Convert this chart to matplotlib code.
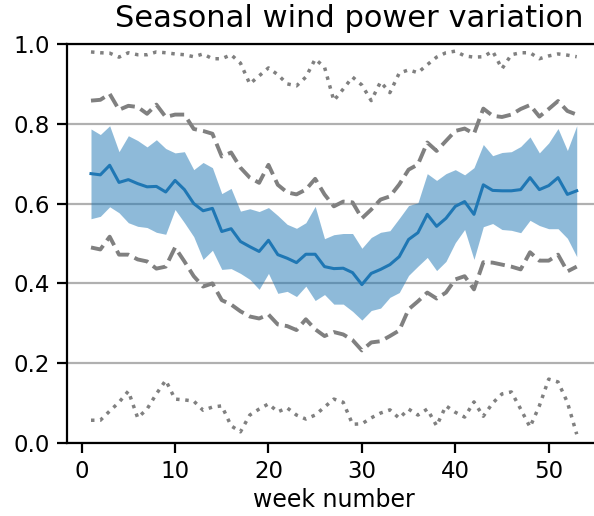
import numpy as np
import matplotlib

matplotlib.use("Agg")
import matplotlib.pyplot as plt

# Weekly capacity factor statistics
weeks = np.arange(1, 54)

median = [0.675, 0.672, 0.696, 0.653, 0.660, 0.650, 0.642, 0.643, 0.629, 0.658,
          0.635, 0.600, 0.582, 0.588, 0.530, 0.537, 0.505, 0.492, 0.480, 0.508,
          0.472, 0.463, 0.452, 0.473, 0.473, 0.442, 0.437, 0.438, 0.427, 0.397,
          0.425, 0.435, 0.447, 0.467, 0.510, 0.527, 0.573, 0.543, 0.563, 0.593,
          0.605, 0.573, 0.647, 0.633, 0.632, 0.632, 0.635, 0.665, 0.635, 0.645,
          0.665, 0.623, 0.632]

q75 = [0.787, 0.773, 0.795, 0.730, 0.770, 0.758, 0.742, 0.760, 0.738, 0.727,
       0.730, 0.685, 0.703, 0.690, 0.625, 0.638, 0.581, 0.587, 0.580, 0.590,
       0.570, 0.548, 0.538, 0.552, 0.593, 0.512, 0.522, 0.525, 0.525, 0.488,
       0.515, 0.528, 0.532, 0.563, 0.595, 0.602, 0.675, 0.658, 0.675, 0.685,
       0.672, 0.690, 0.748, 0.720, 0.728, 0.730, 0.743, 0.767, 0.727, 0.752,
       0.788, 0.733, 0.795]

q25 = [0.562, 0.568, 0.592, 0.577, 0.552, 0.543, 0.540, 0.528, 0.523, 0.585,
       0.552, 0.517, 0.460, 0.483, 0.435, 0.437, 0.425, 0.410, 0.385, 0.425,
       0.375, 0.380, 0.367, 0.393, 0.357, 0.372, 0.348, 0.348, 0.330, 0.308,
       0.332, 0.338, 0.365, 0.377, 0.420, 0.443, 0.465, 0.432, 0.455, 0.502,
       0.535, 0.460, 0.542, 0.550, 0.535, 0.533, 0.527, 0.558, 0.545, 0.537,
       0.537, 0.513, 0.467]

q90 = [0.858, 0.860, 0.875, 0.835, 0.845, 0.842, 0.825, 0.848, 0.817, 0.823,
       0.823, 0.787, 0.782, 0.775, 0.718, 0.728, 0.690, 0.665, 0.652, 0.697,
       0.647, 0.628, 0.623, 0.635, 0.662, 0.623, 0.593, 0.605, 0.603, 0.563,
       0.585, 0.610, 0.618, 0.648, 0.685, 0.698, 0.753, 0.732, 0.757, 0.782,
       0.788, 0.775, 0.838, 0.820, 0.817, 0.823, 0.837, 0.847, 0.818, 0.837,
       0.857, 0.832, 0.823]

q10 = [0.490, 0.485, 0.517, 0.472, 0.472, 0.460, 0.455, 0.437, 0.442, 0.490,
       0.455, 0.418, 0.392, 0.400, 0.358, 0.347, 0.330, 0.317, 0.312, 0.322,
       0.297, 0.293, 0.283, 0.310, 0.285, 0.268, 0.278, 0.272, 0.258, 0.232,
       0.252, 0.255, 0.268, 0.282, 0.335, 0.355, 0.377, 0.362, 0.377, 0.410,
       0.418, 0.385, 0.453, 0.452, 0.447, 0.442, 0.435, 0.478, 0.457, 0.457,
       0.472, 0.430, 0.442]

wk_max = [0.980, 0.978, 0.977, 0.967, 0.978, 0.973, 0.973, 0.980, 0.978, 0.975,
          0.973, 0.968, 0.975, 0.963, 0.963, 0.973, 0.952, 0.900, 0.920, 0.940,
          0.923, 0.900, 0.895, 0.917, 0.962, 0.942, 0.858, 0.887, 0.917, 0.897,
          0.858, 0.905, 0.878, 0.927, 0.935, 0.928, 0.948, 0.967, 0.978, 0.982,
          0.970, 0.967, 0.968, 0.982, 0.938, 0.973, 0.978, 0.978, 0.963, 0.970,
          0.975, 0.972, 0.968]

wk_min = [0.057, 0.057, 0.080, 0.102, 0.130, 0.063, 0.085, 0.123, 0.157, 0.110,
          0.108, 0.105, 0.082, 0.090, 0.093, 0.043, 0.028, 0.070, 0.085, 0.098,
          0.078, 0.088, 0.070, 0.060, 0.070, 0.090, 0.110, 0.102, 0.047, 0.048,
          0.063, 0.075, 0.083, 0.062, 0.085, 0.070, 0.085, 0.043, 0.093, 0.077,
          0.065, 0.103, 0.067, 0.100, 0.123, 0.128, 0.085, 0.040, 0.093, 0.160,
          0.153, 0.102, 0.022]

# --- Figure ---
fig = plt.figure(figsize=(5.94, 5.16), dpi=100)
ax = fig.add_axes([0.1123, 0.1415, 0.8995, 0.7733])

ax.fill_between(weeks, q25, q75, color="C0", alpha=0.5, linewidth=0)
ax.plot(weeks, median, color="C0", linewidth=2.2)
ax.plot(weeks, q90, color="grey", linestyle="--", linewidth=2.8)
ax.plot(weeks, q10, color="grey", linestyle="--", linewidth=2.8)
ax.plot(weeks, wk_max, color="grey", linestyle=":", linewidth=2.5)
ax.plot(weeks, wk_min, color="grey", linestyle=":", linewidth=2.5)

ax.set_ylim(0, 1)
ax.set_yticks([0.0, 0.2, 0.4, 0.6, 0.8, 1.0])
ax.set_xticks([0, 10, 20, 30, 40, 50])
ax.grid(True, axis="y", color="#b0b0b0", linewidth=1.6)
ax.set_axisbelow(True)

for side in ax.spines.values():
    side.set_linewidth(1.6)
ax.tick_params(labelsize=16.5, width=1.6, length=7, pad=5)

ax.set_xlabel("week number", fontsize=17, labelpad=4)
ax.set_title("Seasonal wind power variation", fontsize=22, pad=12, x=0.528)

fig.savefig("out.png", dpi=100)
